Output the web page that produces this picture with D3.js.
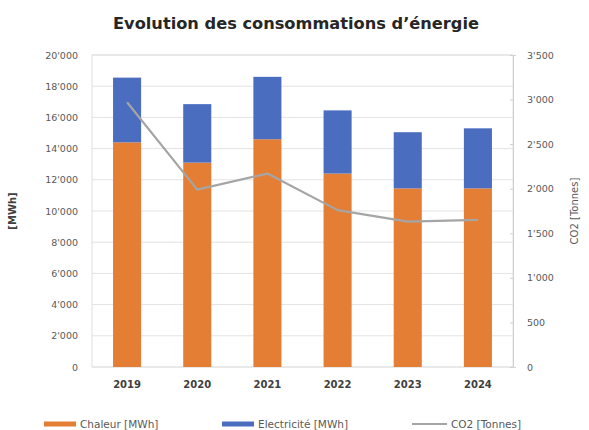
<!DOCTYPE html>
<html>
<head>
<meta charset="utf-8">
<script src="https://cdn.jsdelivr.net/npm/d3@7"></script>
<style>
  body { margin: 0; background: #fff; }
  text { font-family: "DejaVu Sans", sans-serif; }
</style>
</head>
<body>
<svg id="chart" width="589" height="430"></svg>
<script>
// data
var years = ['2019', '2020', '2021', '2022', '2023', '2024'];
var chaleur = [14400, 13100, 14600, 12400, 11450, 11450];
var electricite = [4150, 3750, 4000, 4050, 3600, 3850];
var co2 = [2970, 1990, 2170, 1760, 1630, 1650];
var leftTicks = [0, 2000, 4000, 6000, 8000, 10000, 12000, 14000, 16000, 18000, 20000];
var rightTicks = [0, 500, 1000, 1500, 2000, 2500, 3000, 3500];

var svg = d3.select('#chart');
var margin = {top: 55, right: 76, bottom: 63, left: 92};
var width = 589 - margin.left - margin.right;
var height = 430 - margin.top - margin.bottom;

var loc = d3.formatLocale({decimal: '.', thousands: "'", grouping: [3], currency: ['', '']});
var fmt = loc.format(',.0f');

var x = d3.scaleBand().domain(years).range([0, width]).paddingInner(0.6).paddingOuter(0.3);
var yL = d3.scaleLinear().domain([0, 20000]).range([height, 0]);
var yR = d3.scaleLinear().domain([0, 3500]).range([height, 0]);

var g = svg.append('g').attr('transform', 'translate(' + margin.left + ',' + margin.top + ')');

// gridlines
g.append('g')
  .selectAll('line')
  .data(leftTicks)
  .enter().append('line')
  .attr('x1', 0).attr('x2', width)
  .attr('y1', function(d) { return yL(d); })
  .attr('y2', function(d) { return yL(d); })
  .style('stroke', '#e3e3e3').style('stroke-width', 1);

// plot border
g.append('rect').attr('x', 0).attr('y', 0).attr('width', width).attr('height', height)
  .style('fill', 'none').style('stroke', '#e0e0e0');

// stacked bars
var rows = years.map(function(y, i) { return {year: y, chaleur: chaleur[i], electricite: electricite[i]}; });
var stack = d3.stack().keys(['chaleur', 'electricite'])(rows);
var colors = {chaleur: '#E47E35', electricite: '#4A6DC0'};

g.selectAll('.serie')
  .data(stack)
  .enter().append('g')
  .attr('class', 'serie')
  .style('fill', function(d) { return colors[d.key]; })
  .selectAll('rect')
  .data(function(d) { return d; })
  .enter().append('rect')
  .attr('x', function(d) { return x(d.data.year); })
  .attr('width', x.bandwidth())
  .attr('y', function(d) { return yL(d[1]); })
  .attr('height', function(d) { return yL(d[0]) - yL(d[1]); });

// CO2 line
var line = d3.line()
  .x(function(d, i) { return x(years[i]) + x.bandwidth() / 2; })
  .y(function(d) { return yR(d); });

g.append('path')
  .datum(co2)
  .attr('d', line)
  .style('fill', 'none')
  .style('stroke', '#a5a5a5')
  .style('stroke-width', 2.2)
  .style('stroke-linejoin', 'round');

// left axis
var leftAxis = g.append('g')
  .call(d3.axisLeft(yL).tickValues(leftTicks).tickFormat(fmt).tickSize(0).tickPadding(14));
leftAxis.select('.domain').remove();
leftAxis.selectAll('text').style('font-size', '9.5px').style('fill', '#595959');

// right axis
var rightAxis = g.append('g')
  .attr('transform', 'translate(' + width + ',0)')
  .call(d3.axisRight(yR).tickValues(rightTicks).tickFormat(fmt).tickSize(3).tickPadding(11));
rightAxis.select('.domain').style('stroke', '#d0d0d0');
rightAxis.selectAll('.tick line').style('stroke', '#d0d0d0').attr('x1', -3).attr('x2', 0);
rightAxis.selectAll('text').style('font-size', '9.5px').style('fill', '#595959');

// x axis
var xAxis = g.append('g')
  .attr('transform', 'translate(0,' + height + ')')
  .call(d3.axisBottom(x).tickSize(0).tickPadding(14));
xAxis.select('.domain').remove();
xAxis.selectAll('text').style('font-size', '10px').style('font-weight', 'bold').style('fill', '#404040');

// titles
svg.append('text')
  .attr('x', 296).attr('y', 29)
  .attr('text-anchor', 'middle')
  .attr('textLength', 366).attr('lengthAdjust', 'spacingAndGlyphs')
  .style('font-size', '15px').style('font-weight', 'bold').style('fill', '#262626')
  .text('Evolution des consommations d\u2019énergie');

svg.append('text')
  .attr('transform', 'translate(16,' + (margin.top + height / 2) + ') rotate(-90)')
  .attr('text-anchor', 'middle')
  .style('font-size', '10px').style('font-weight', 'bold').style('fill', '#404040')
  .text('[MWh]');

svg.append('text')
  .attr('transform', 'translate(578,' + (margin.top + height / 2) + ') rotate(-90)')
  .attr('text-anchor', 'middle')
  .style('font-size', '10px').style('fill', '#595959')
  .text('CO2 [Tonnes]');

// legend
var legendItems = [
  {label: 'Chaleur [MWh]', color: colors.chaleur, x: 44, w: 32, h: 5},
  {label: 'Electricité [MWh]', color: colors.electricite, x: 222, w: 32, h: 5},
  {label: 'CO2 [Tonnes]', color: '#a5a5a5', x: 412, w: 35, h: 2}
];
var legend = svg.append('g').attr('transform', 'translate(0,424)');
legend.selectAll('rect')
  .data(legendItems)
  .enter().append('rect')
  .attr('x', function(d) { return d.x; })
  .attr('y', function(d) { return -d.h / 2; })
  .attr('width', function(d) { return d.w; })
  .attr('height', function(d) { return d.h; })
  .style('fill', function(d) { return d.color; });
legend.selectAll('text')
  .data(legendItems)
  .enter().append('text')
  .attr('x', function(d) { return d.x + d.w + 4; })
  .attr('y', 4)
  .style('font-size', '10.5px').style('fill', '#595959')
  .text(function(d) { return d.label; });
</script>
</body>
</html>
